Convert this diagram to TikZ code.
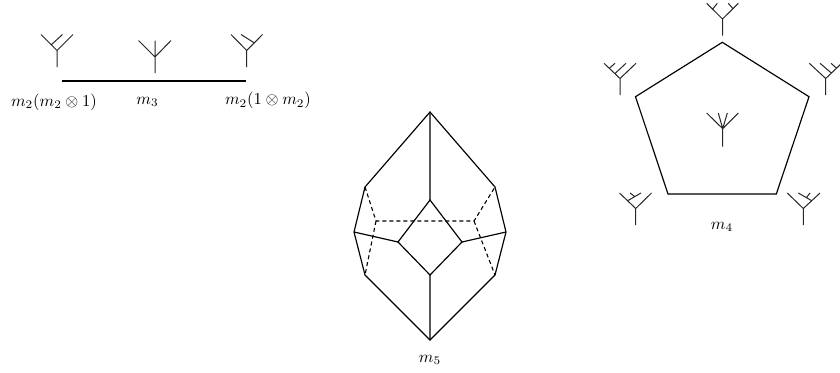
\documentclass[tikz,border=0pt]{standalone}
\tikzset{
  edgeline/.style={line width=0.7pt,black,line join=miter},
  hiddenline/.style={line width=0.65pt,black,dash pattern=on 2.4pt off 1.8pt},
  treeline/.style={line width=0.6pt,black!85},
  lab/.style={inner sep=0pt,anchor=center}
}
\begin{document}
\begin{tikzpicture}[x=0.6pt,y=-0.6pt]
\clip (0,0) rectangle (840,372);
% --- m3 segment
\coordinate (sa) at (62,81);
\coordinate (sb) at (246,81);
\draw[edgeline] (sa) -- (sb);
\node[lab] (l1) at (54,102) {$m_2(m_2\otimes 1)$};
\node[lab] (l2) at (147.5,102) {$m_3$};
\node[lab] (l3) at (268,100.5) {$m_2(1\otimes m_2)$};
% trees of the segment
\draw[treeline] (57,67) -- (57,50.5) (41,34.5) -- (57,50.5) -- (73,34.5) (51,45) -- (62.5,34.5);
\draw[treeline] (155,73) -- (155,57) (138.5,40.5) -- (155,57) -- (171,40.5) (155,57) -- (155,40.5);
\draw[treeline] (246.7,67) -- (246.7,50.5) (231,34.5) -- (246.7,50.5) -- (262.5,34.5) (254.5,43) -- (241,34.5);
% --- pentagon m4
\coordinate (pt) at (722.3,42.3);
\coordinate (pl) at (635.5,96.7);
\coordinate (pr) at (809,96.7);
\coordinate (pbl) at (668,194);
\coordinate (pbr) at (776.3,194);
\draw[edgeline] (pt) -- (pr) -- (pbr) -- (pbl) -- (pl) -- cycle;
\node[lab] (l4) at (722,227) {$m_4$};
% trees of the pentagon
\draw[treeline] (722.5,35.5) -- (722.5,19) (706.7,3.3) -- (722.5,19) -- (738.3,3.3) (712.7,9) -- (717.3,3.3) (733.3,9) -- (728.3,3.3);
\draw[treeline] (620,95) -- (620,78.5) (604,63.3) -- (620,78.5) -- (636,63.3) (615,73.5) -- (626,63.3) (609.3,68.3) -- (615,63.3);
\draw[treeline] (825.7,95) -- (825.7,78.5) (809.3,63.3) -- (825.7,78.5) -- (841.7,63.3) (831,72.7) -- (820,63.3) (836,67.7) -- (831,63.3);
\draw[treeline] (722.7,146.5) -- (722.7,128.7) (706.7,113) -- (722.7,128.7) -- (738.3,113) (718.3,113) -- (722.7,128.7) -- (727.3,113);
\draw[treeline] (635.7,225) -- (635.7,208.5) (619.5,193) -- (635.7,208.5) -- (651.5,193) (627.7,200.7) -- (641,193) (635,196.7) -- (630,193);
\draw[treeline] (803.3,225) -- (803.3,208.5) (787.3,193) -- (803.3,208.5) -- (820,193) (811.7,200.7) -- (798.3,193) (806.7,197.3) -- (810,193);
% --- polyhedron m5
\coordinate (top) at (430,112);
\coordinate (ul) at (365,187);
\coordinate (ur) at (495,187);
\coordinate (ml) at (354,232);
\coordinate (mr) at (506,232);
\coordinate (ll) at (365,275);
\coordinate (lr) at (495,275);
\coordinate (bot) at (430,340);
\coordinate (it) at (430,200);
\coordinate (il) at (398,242);
\coordinate (ir) at (462,242);
\coordinate (ib) at (430,275);
\coordinate (bl) at (376,221);
\coordinate (br) at (474,221);
\draw[hiddenline] (ul) -- (bl) -- (br) -- (ur) (bl) -- (ll) (br) -- (lr);
\draw[edgeline] (top) -- (ul) -- (ml) -- (ll) -- (bot) -- (lr) -- (mr) -- (ur) -- cycle;
\draw[edgeline] (it) -- (ir) -- (ib) -- (il) -- cycle;
\draw[edgeline] (top) -- (it) (ib) -- (bot) (ml) -- (il) (mr) -- (ir);
\node[lab] (l5) at (430,360) {$m_5$};
\end{tikzpicture}
\end{document}
